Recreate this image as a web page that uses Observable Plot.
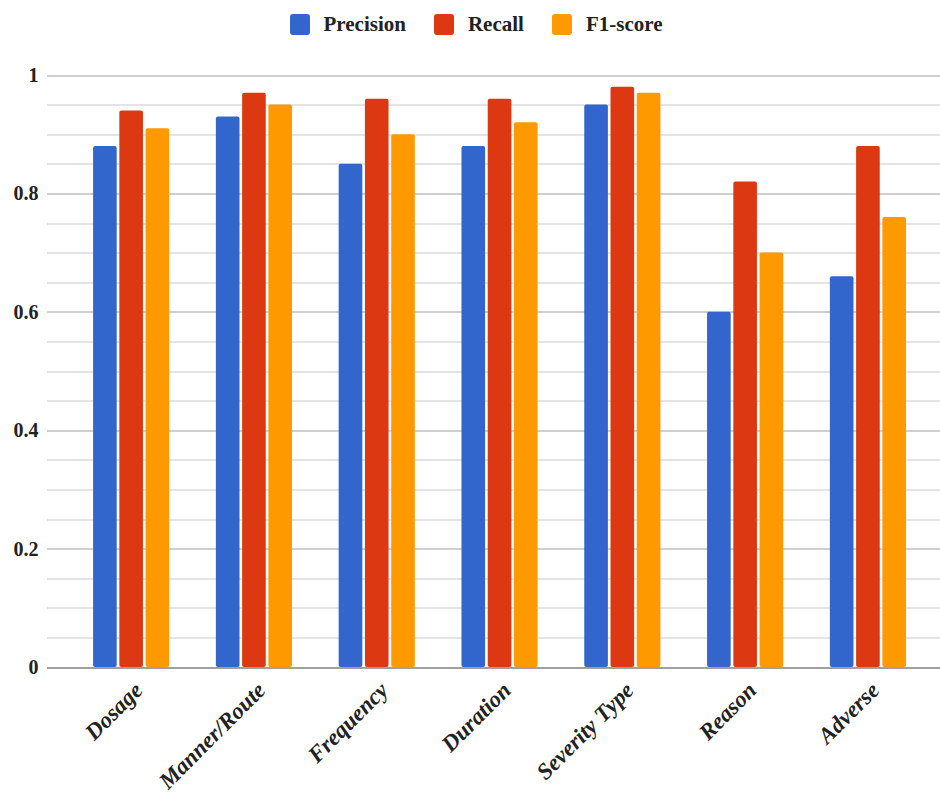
<!DOCTYPE html>
<html><head><meta charset="utf-8">
<script src="https://cdn.jsdelivr.net/npm/d3@7"></script>
<script src="https://cdn.jsdelivr.net/npm/@observablehq/plot@0.6"></script>
<style>
body{margin:0;background:#fff;font-family:"Liberation Serif",serif;}
#legend{height:48px;display:flex;justify-content:center;align-items:center;padding-left:12px;}
.item{display:flex;align-items:center;margin:0 14px;font-weight:bold;font-size:21px;color:#222;}
.sw{width:20px;height:21px;border-radius:3px;margin-right:14px;}
#chart svg{display:block;}
</style></head><body>
<div id="legend"></div><div id="chart"></div>
<script>
const categories = ["Dosage","Manner/Route","Frequency","Duration","Severity Type","Reason","Adverse"];
const metrics = ["Precision","Recall","F1-score"];
const colors = ["#3366cc","#dc3912","#ff9900"];
const precision = [0.88,0.93,0.85,0.88,0.95,0.60,0.66];
const recall    = [0.94,0.97,0.96,0.96,0.98,0.82,0.88];
const f1        = [0.91,0.95,0.90,0.92,0.97,0.70,0.76];
const majorTicks = [0,0.2,0.4,0.6,0.8,1];
const minorTicks = [0.05,0.1,0.15,0.25,0.3,0.35,0.45,0.5,0.55,0.65,0.7,0.75,0.85,0.9,0.95];

const series = [precision, recall, f1];
const data = categories.flatMap((c,i)=>metrics.map((m,j)=>({category:c, metric:m, value:series[j][i]})));

const legend = document.getElementById("legend");
metrics.forEach((m,i)=>{
  const it = document.createElement("div"); it.className="item";
  const sw = document.createElement("div"); sw.className="sw"; sw.style.background=colors[i];
  const tx = document.createElement("span"); tx.textContent=m;
  it.appendChild(sw); it.appendChild(tx); legend.appendChild(it);
});

const ext = {insetLeft:-46, insetRight:-46, shapeRendering:"crispEdges"};
const chart = Plot.plot({
  width:940, height:754, marginLeft:48, marginRight:0, marginTop:27, marginBottom:135,
  style:{fontFamily:"'Liberation Serif', serif", fontWeight:"bold", fontSize:"20px", background:"white", color:"#222"},
  fx:{domain:categories, paddingInner:0.38, paddingOuter:0.322, align:0.57, round:false, label:null},
  x:{domain:metrics, paddingInner:0.1, paddingOuter:0, round:false, axis:null},
  y:{domain:[0,1], label:null},
  color:{domain:metrics, range:colors},
  marks:[
    Plot.ruleY(minorTicks,{stroke:"#e4e4e4", strokeWidth:2, ...ext}),
    Plot.ruleY(majorTicks.filter(d=>d>0),{stroke:"#cfcfcf", strokeWidth:2, ...ext}),
    Plot.barY(data,{fx:"category", x:"metric", y:"value", fill:"metric", rx:2}),
    Plot.ruleY([0],{stroke:"#a0a0a0", strokeWidth:2, ...ext}),
    Plot.axisY({ticks:majorTicks, tickSize:0, tickPadding:55, tickFormat:d=>String(+d.toFixed(2)), label:null, fontSize:20}),
    Plot.axisFx({anchor:"bottom", tickRotate:-45, tickSize:0, tickPadding:19, dx:7, fontStyle:"italic", fontSize:23, label:null})
  ]
});
document.getElementById("chart").appendChild(chart);
</script>
</body></html>
